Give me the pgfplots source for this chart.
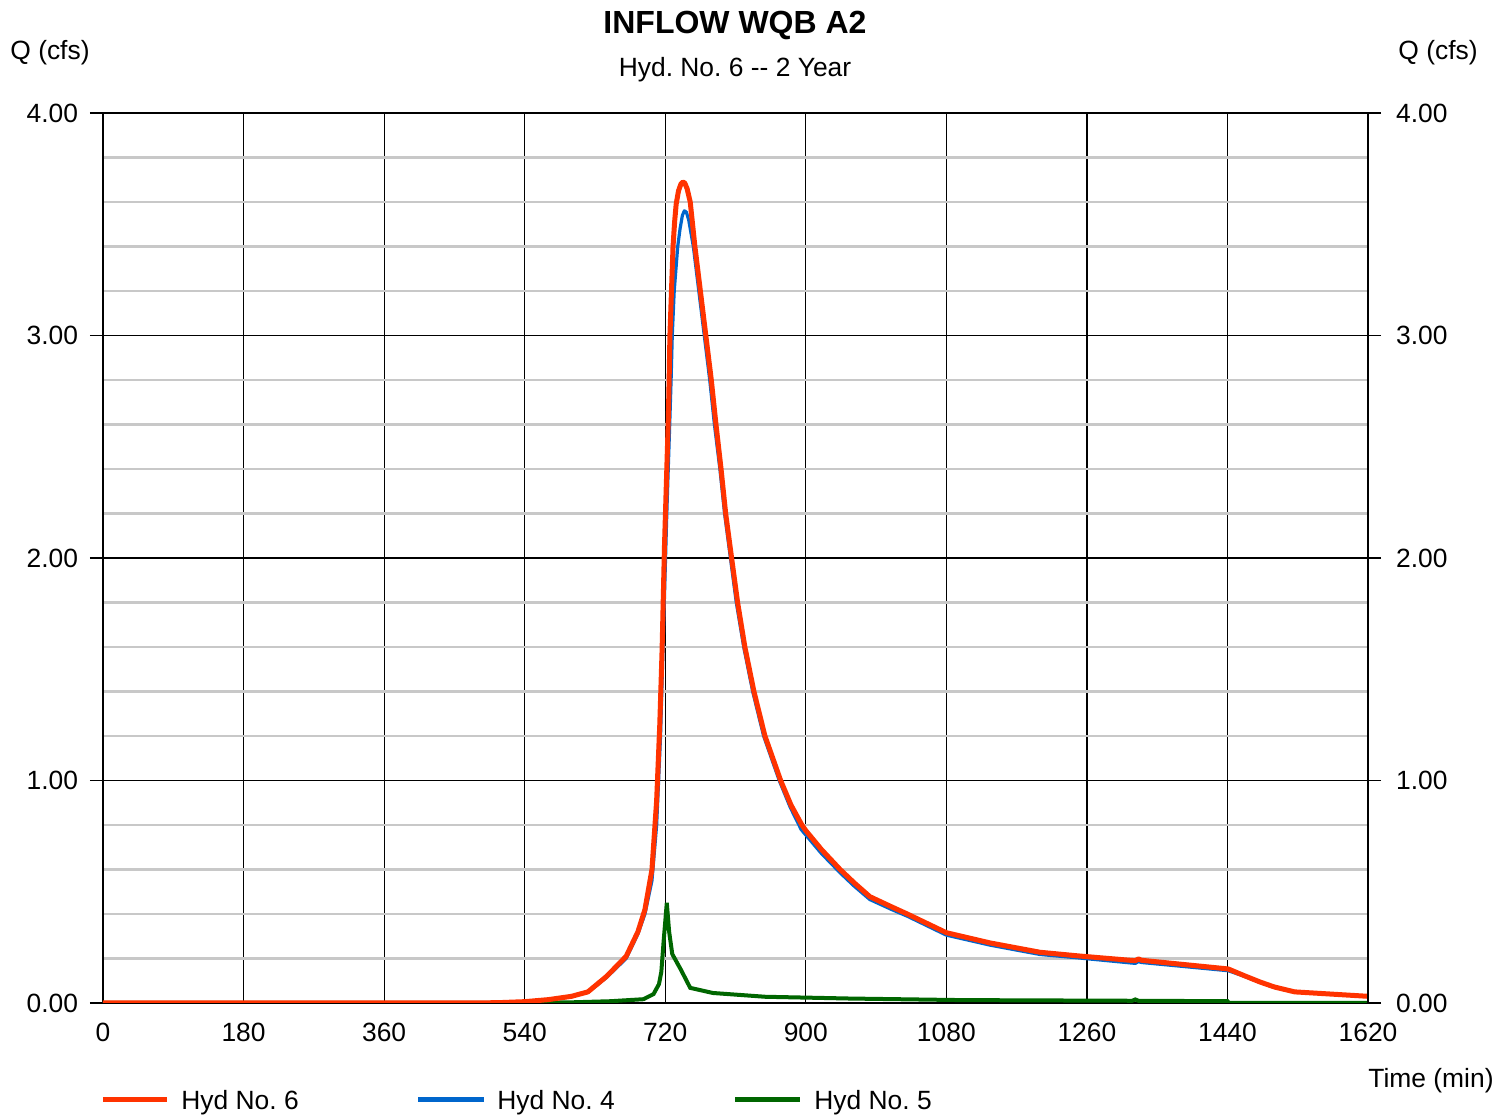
\documentclass[border=0pt]{standalone}
\usepackage{fontspec}
\setmainfont{Liberation Sans}
\usepackage{pgfplots}
\pgfplotsset{compat=1.18}
\definecolor{hred}{HTML}{FF3300}
\definecolor{hblue}{HTML}{0066CC}
\definecolor{hgreen}{HTML}{006600}
\definecolor{mgrid}{HTML}{C8C8C8}
\newcommand{\tf}{\fontsize{13.2bp}{15bp}\selectfont}
\frenchspacing
\begin{document}
\begin{tikzpicture}[x=1bp,y=1bp]
\useasboundingbox (-51.5,-56.5) rectangle (704.5,501.5);
\begin{axis}[at={(0,0)}, anchor=south west, scale only axis,
  width=632.5bp, height=445bp,
  xmin=0, xmax=1620, ymin=0, ymax=4,
  xtick={0,180,...,1620}, ytick={0,1,2,3,4},
  minor ytick={0.2,0.4,0.6,0.8,1.2,1.4,1.6,1.8,2.2,2.4,2.6,2.8,3.2,3.4,3.6,3.8},
  grid=both,
  major grid style={black, line width=0.6bp},
  minor grid style={mgrid, line width=1.3bp},
  axis line style={black, line width=0.6bp},
  tick align=outside, ytick pos=left, xtick pos=bottom,
  major tick length=6.5bp, minor tick length=0pt,
  xtick style={/pgfplots/major tick length=0pt},
  ytick style={black, line width=0.6bp},
  /pgf/number format/assume math mode=true,
  /pgf/number format/1000 sep={},
  ticklabel style={font=\tf},
  yticklabel style={/pgf/number format/.cd, fixed, fixed zerofill, precision=2, /tikz/.cd, xshift=-2.5bp},
  xticklabel style={yshift=0bp},
]
\addplot[hgreen, line width=2bp] coordinates {
(0,0) (540,0) (600,0.003) (650,0.008) (692,0.017) (705,0.04) (712,0.085) (715,0.14) (718,0.28) (722,0.45) (725,0.32) (729,0.22) (740,0.15) (752,0.068) (781,0.045) (848,0.028) (957,0.02) (1100,0.013) (1318,0.01) (1322,0.016) (1326,0.01) (1440,0.008) (1442,0) (1620,0)
};
\addplot[hblue, line width=1.6bp, line join=round] coordinates {
(0,0) (480,0) (540,0.005) (570,0.014) (600,0.029) (621,0.048) (645,0.115) (670,0.20) (685,0.31) (694,0.40) (703,0.55) (709,0.80) (714,1.20) (718,1.70) (722,2.20) (726,2.63) (727.5,2.8) (729,3.0) (731.5,3.2) (736,3.4) (739,3.48) (742,3.54) (744.5,3.56) (747,3.555) (750,3.52) (756,3.4) (763,3.2) (770,3.0) (777,2.8) (783,2.6) (790,2.4) (796,2.2) (803.5,2.0) (811,1.8) (820.5,1.6) (832,1.4) (846,1.2) (866,1.0) (880,0.88) (894,0.78) (900,0.755) (920,0.672) (944,0.585) (962,0.525) (982,0.465) (1010,0.42) (1030,0.39) (1080,0.305) (1136,0.26) (1200,0.218) (1251,0.202) (1322,0.178) (1326,0.186) (1330,0.182) (1441,0.145) (1460,0.122) (1482,0.092) (1500,0.07) (1526,0.05) (1620,0.03)
};
\addplot[hred, line width=2.5bp, line join=round] coordinates {
(0,0) (480,0) (510,0.002) (540,0.006) (570,0.015) (600,0.03) (621,0.05) (645,0.12) (670,0.21) (685,0.32) (694,0.42) (703,0.60) (709,0.91) (713,1.25) (716,1.59) (719,2.05) (722,2.40) (724,2.63) (725,2.8) (726,3.0) (728,3.2) (730,3.4) (732,3.51) (734,3.59) (737,3.65) (740,3.68) (742.5,3.69) (745,3.685) (748,3.66) (752,3.6) (758,3.4) (765,3.2) (772,3.0) (779,2.8) (785,2.6) (791.5,2.4) (797.4,2.2) (805,2.0) (812.7,1.8) (822,1.6) (833.6,1.4) (847.7,1.2) (867.8,1.0) (881,0.89) (895,0.80) (900,0.775) (920,0.69) (944,0.60) (962,0.54) (982,0.478) (1010,0.432) (1030,0.40) (1080,0.316) (1136,0.27) (1200,0.228) (1251,0.211) (1322,0.19) (1326,0.198) (1330,0.192) (1441,0.153) (1460,0.125) (1482,0.094) (1500,0.072) (1526,0.05) (1620,0.03)
};
\end{axis}
\begin{axis}[at={(0,0)}, anchor=south west, scale only axis,
  width=632.5bp, height=445bp,
  xmin=0, xmax=1620, ymin=0, ymax=4,
  axis x line=none, axis y line*=right,
  ytick={0,1,2,3,4},
  tick align=outside, major tick length=6.5bp,
  ytick style={black, line width=0.6bp},
  axis line style={black, line width=0.6bp},
  /pgf/number format/assume math mode=true,
  ticklabel style={font=\tf},
  yticklabel style={/pgf/number format/.cd, fixed, fixed zerofill, precision=2, /tikz/.cd, xshift=4bp},
]
\end{axis}
\node[font=\fontsize{16bp}{19bp}\selectfont\bfseries, anchor=base] at (316,484.7) {INFLOW WQB A2};
\node[font=\tf, anchor=base] at (316,463.4) {Hyd. No. 6 -{}- 2 Year};
\node[font=\tf, anchor=base] at (-26.5,471.9) {Q (cfs)};
\node[font=\tf, anchor=base] at (667.5,471.9) {Q (cfs)};
\node[font=\tf, anchor=base] at (664,-42.5) {Time (min)};
\draw[hred, line width=2.5bp] (0,-48.5) -- (32,-48.5);
\node[font=\tf, anchor=base west, inner sep=0pt] at (39,-53.2) {Hyd No. 6};
\draw[hblue, line width=2.5bp] (157.5,-48.5) -- (190.5,-48.5);
\node[font=\tf, anchor=base west, inner sep=0pt] at (197,-53.2) {Hyd No. 4};
\draw[hgreen, line width=2.5bp] (316,-48.5) -- (348.5,-48.5);
\node[font=\tf, anchor=base west, inner sep=0pt] at (355.5,-53.2) {Hyd No. 5};
\end{tikzpicture}
\end{document}
